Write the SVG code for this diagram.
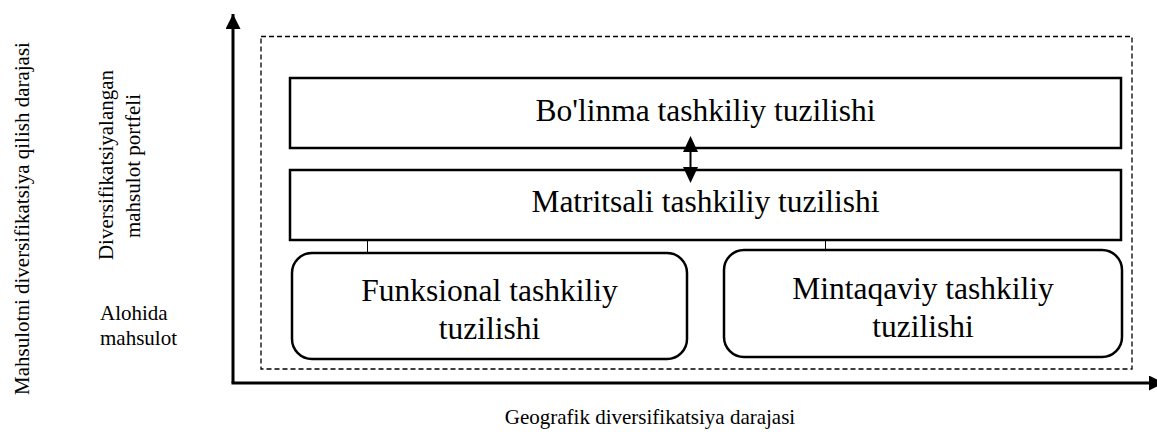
<svg xmlns="http://www.w3.org/2000/svg" width="1157" height="440" viewBox="0 0 1157 440">
  <style>
    .lbl { font-size: 21px; }
    .big { font-size: 31.5px; }
    .box { fill: #fff; stroke: #000; stroke-width: 2.5; }
    .axis { stroke: #000; stroke-width: 3; fill: none; }
    .thin { stroke: #000; stroke-width: 1; fill: none; }
  </style>
  <defs>
    <marker id="ah" viewBox="0 0 10 10" refX="10" refY="5" markerWidth="5" markerHeight="5" orient="auto" markerUnits="strokeWidth">
      <path d="M0,0 L10,5 L0,10 z" fill="#000"/>
    </marker>
  </defs>
  <rect width="1157" height="440" fill="#fff"/>

  <g id="axes">
    <line class="axis" x1="233" y1="383" x2="233" y2="14" marker-end="url(#ah)"/>
    <line class="axis" x1="231.5" y1="383" x2="1164" y2="383" marker-end="url(#ah)"/>
  </g>

  <g id="frame">
    <rect x="261" y="36.5" width="871" height="332.5" fill="none" stroke="#000" stroke-width="1.3" stroke-dasharray="5,3"/>
  </g>

  <g font-family="'Liberation Serif', 'Times New Roman', 'DejaVu Serif', serif" fill="#000">
  <g id="labels">
    <text class="lbl" transform="translate(29,218.5) rotate(-90)" text-anchor="middle">Mahsulotni diversifikatsiya qilish darajasi</text>
    <text class="lbl" transform="translate(113,165) rotate(-90)" text-anchor="middle">Diversifikatsiyalangan</text>
    <text class="lbl" transform="translate(140,166) rotate(-90)" text-anchor="middle">mahsulot portfeli</text>
    <text class="lbl" x="100" y="320">Alohida</text>
    <text class="lbl" x="100" y="345">mahsulot</text>
    <text class="lbl" x="650" y="424" text-anchor="middle">Geografik diversifikatsiya darajasi</text>
  </g>

  <g id="node-bolinma">
    <rect class="box" x="290" y="78" width="831" height="70"/>
    <text class="big" x="705.5" y="121" text-anchor="middle">Bo'linma tashkiliy tuzilishi</text>
  </g>

  <g id="node-matritsali">
    <rect class="box" x="290" y="170" width="831" height="70"/>
    <text class="big" x="705.5" y="212" text-anchor="middle">Matritsali tashkiliy tuzilishi</text>
  </g>

  <g id="node-funksional">
    <rect class="box" x="292" y="253" width="395" height="106" rx="20"/>
    <text class="big" x="489.5" y="301" text-anchor="middle">Funksional tashkiliy</text>
    <text class="big" x="489.5" y="339" text-anchor="middle">tuzilishi</text>
  </g>

  <g id="node-mintaqaviy">
    <rect class="box" x="724" y="250" width="398" height="107" rx="20"/>
    <text class="big" x="923" y="299" text-anchor="middle">Mintaqaviy tashkiliy</text>
    <text class="big" x="923" y="337" text-anchor="middle">tuzilishi</text>
  </g>
  </g>

  <g id="connectors">
    <line class="thin" x1="367.5" y1="241" x2="367.5" y2="252"/>
    <line class="thin" x1="825.5" y1="241" x2="825.5" y2="249"/>
    <line x1="690.5" y1="148" x2="690.5" y2="170" stroke="#000" stroke-width="2"/>
    <polygon points="690.5,136 683,152 698,152" fill="#000"/>
    <polygon points="690.5,183 683,167 698,167" fill="#000"/>
  </g>
</svg>
